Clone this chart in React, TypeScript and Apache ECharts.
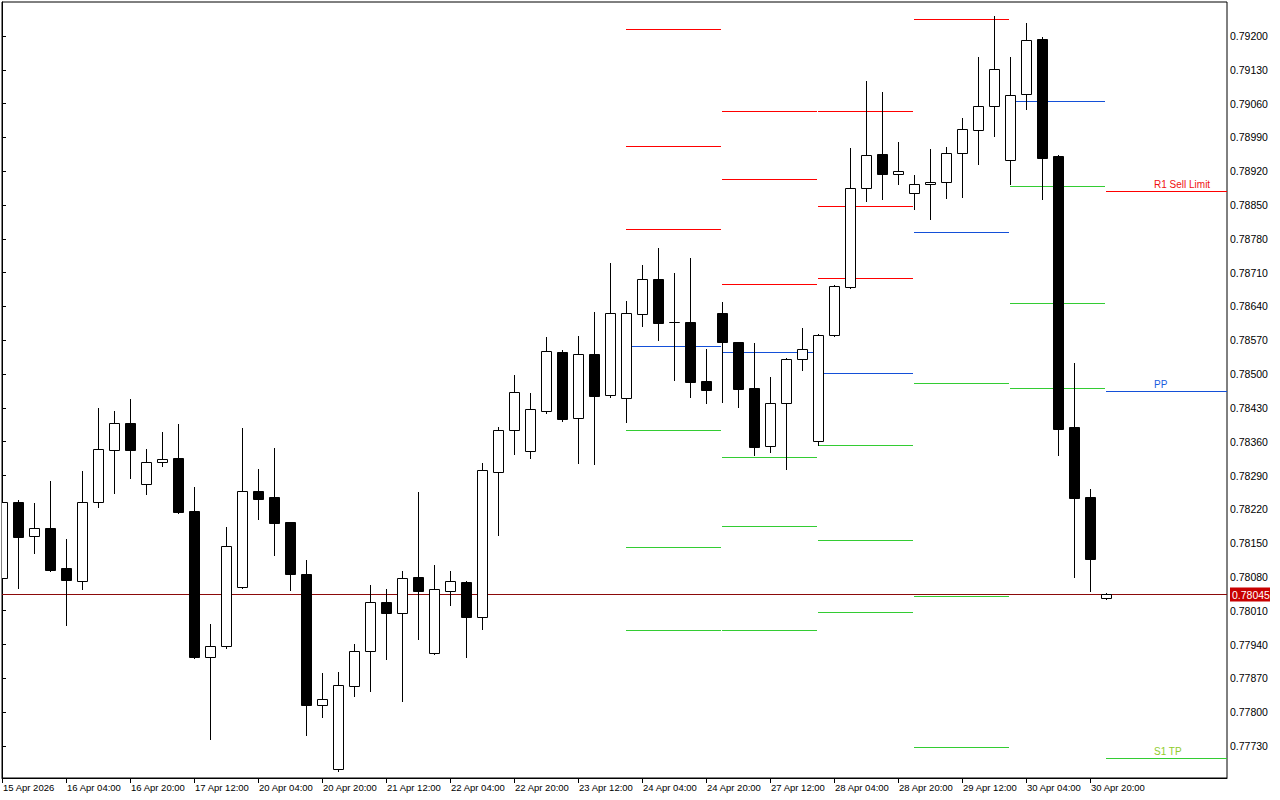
import React, { useEffect, useRef } from "react";
import * as echarts from "echarts";

// ---- data ----
const barOpen = [
  0.78078, 0.78235, 0.78165, 0.78182, 0.78099, 0.78072, 0.78235, 0.78343, 0.78399, 0.78273,
  0.78318, 0.78326, 0.78217, 0.77915, 0.77937, 0.78059, 0.78258, 0.78246, 0.78194, 0.78086,
  0.77815, 0.77683, 0.77855, 0.77927, 0.78028, 0.78006, 0.7808, 0.77923, 0.78051, 0.7807,
  0.77997, 0.78297, 0.78384, 0.78341, 0.78424, 0.78546, 0.78409, 0.78542, 0.78457, 0.78451,
  0.78625, 0.78697, 0.78608, 0.78608, 0.78486, 0.78627, 0.78567, 0.78471, 0.78351, 0.7844,
  0.78531, 0.78362, 0.78581, 0.7868, 0.78885, 0.78956, 0.78914, 0.78875, 0.78894, 0.78898,
  0.78958, 0.79005, 0.79055, 0.78943, 0.7908, 0.79194, 0.78952, 0.78391, 0.78246, 0.78037,
];
const barClose = [
  0.78235, 0.78163, 0.78182, 0.78095, 0.78074, 0.78235, 0.78345, 0.78399, 0.78343, 0.78318,
  0.78324, 0.78215, 0.77915, 0.77937, 0.78144, 0.78258, 0.78242, 0.78192, 0.78086, 0.77815,
  0.77828, 0.77857, 0.77927, 0.78028, 0.78006, 0.78078, 0.78051, 0.78055, 0.78072, 0.77997,
  0.78302, 0.78384, 0.78463, 0.78428, 0.78548, 0.78407, 0.78542, 0.78455, 0.78627, 0.78627,
  0.78697, 0.78606, 0.78607, 0.78484, 0.78467, 0.78567, 0.78469, 0.78349, 0.7844, 0.78531,
  0.78552, 0.78581, 0.78683, 0.78885, 0.78954, 0.78914, 0.78921, 0.78894, 0.78898, 0.78958,
  0.79007, 0.79055, 0.79132, 0.79078, 0.79192, 0.78947, 0.78386, 0.78244, 0.78117, 0.78045,
];
const barHigh = [
  0.78244, 0.7824, 0.78233, 0.78279, 0.78159, 0.783, 0.7843, 0.78424, 0.78449, 0.78345,
  0.7838, 0.78397, 0.78266, 0.77983, 0.78184, 0.78389, 0.78304, 0.78347, 0.78194, 0.78115,
  0.77881, 0.77884, 0.77941, 0.78064, 0.78055, 0.78093, 0.78256, 0.78105, 0.78093, 0.78072,
  0.78316, 0.78391, 0.78498, 0.78461, 0.78577, 0.7855, 0.78579, 0.78629, 0.7873, 0.78651,
  0.78726, 0.78761, 0.78709, 0.7874, 0.78552, 0.78649, 0.78567, 0.78565, 0.78494, 0.78533,
  0.78596, 0.78583, 0.78685, 0.78968, 0.79107, 0.79084, 0.78981, 0.78912, 0.78966, 0.7897,
  0.7903, 0.79157, 0.79241, 0.79157, 0.79227, 0.79198, 0.78954, 0.78523, 0.78262, 0.78047,
];
const barLow = [
  0.7807, 0.78057, 0.7813, 0.78093, 0.77981, 0.78055, 0.78225, 0.78254, 0.78285, 0.78252,
  0.7831, 0.78212, 0.77912, 0.77745, 0.77933, 0.78057, 0.782, 0.78126, 0.78053, 0.77753,
  0.7779, 0.77679, 0.77834, 0.77844, 0.7791, 0.77823, 0.77952, 0.77921, 0.78022, 0.77915,
  0.77972, 0.78167, 0.78335, 0.78326, 0.7842, 0.78403, 0.78316, 0.78314, 0.78453, 0.78401,
  0.786, 0.78571, 0.78488, 0.78453, 0.7844, 0.78442, 0.78432, 0.78333, 0.78339, 0.78304,
  0.78509, 0.78353, 0.78579, 0.78678, 0.78858, 0.78863, 0.78894, 0.78842, 0.78821, 0.78865,
  0.78867, 0.78935, 0.78993, 0.78894, 0.79049, 0.78863, 0.78333, 0.7808, 0.78051, 0.78035,
];

const timeLabelBars = [0, 4, 8, 12, 16, 20, 24, 28, 32, 36, 40, 44, 48, 52, 56, 60, 64, 68];
const timeLabels = [
  "15 Apr 2026", "16 Apr 04:00", "16 Apr 20:00", "17 Apr 12:00", "20 Apr 04:00", "20 Apr 20:00",
  "21 Apr 12:00", "22 Apr 04:00", "22 Apr 20:00", "23 Apr 12:00", "24 Apr 04:00", "24 Apr 20:00",
  "27 Apr 12:00", "28 Apr 04:00", "28 Apr 20:00", "29 Apr 12:00", "30 Apr 04:00", "30 Apr 20:00",
];

const priceTicks = [
  0.7773, 0.778, 0.7787, 0.7794, 0.7801, 0.7808, 0.7815, 0.7822, 0.7829, 0.7836, 0.7843,
  0.785, 0.7857, 0.7864, 0.7871, 0.7878, 0.7885, 0.7892, 0.7899, 0.7906, 0.7913, 0.792,
];

const currentPrice = 0.78045;

// daily pivot levels
const dayStartBar = [39, 45, 51, 57, 63, 69];
const levelDay = [0, 0, 0, 0, 0, 0, 0, 1, 1, 1, 1, 1, 1, 1, 2, 2, 2, 2, 2, 2, 2, 3, 3, 3, 3, 3, 4, 4, 4, 4, 5, 5, 5];
const levelPrice = [
  0.79214, 0.78972, 0.788, 0.78558, 0.78384, 0.78142, 0.7797,
  0.79045, 0.78904, 0.78687, 0.78546, 0.78329, 0.78186, 0.7797,
  0.79045, 0.78848, 0.78699, 0.78502, 0.78353, 0.78157, 0.78008,
  0.79235, 0.78794, 0.78482, 0.78041, 0.77728,
  0.79065, 0.78889, 0.78647, 0.78471,
  0.78879, 0.78465, 0.77705,
];
const levelKind = [
  "R", "R", "R", "P", "S", "S", "S",
  "R", "R", "R", "P", "S", "S", "S",
  "R", "R", "R", "P", "S", "S", "S",
  "R", "P", "S", "S", "S",
  "P", "S", "S", "S",
  "R", "P", "S",
];
const levelLabel = [
  "", "", "", "", "", "", "",
  "", "", "", "", "", "", "",
  "", "", "", "", "", "", "",
  "", "", "", "", "",
  "", "", "", "",
  "R1 Sell Limit", "PP", "S1 TP",
];

// ---- chart config ----
const X_MAX = 76.5625;
const Y_MIN = 0.776637;
const Y_MAX = 0.792704;
const LABEL_BAR = 72;
const kindColor: Record<string, string> = { R: "#ff0000", P: "#1450d8", S: "#33cc33" };
const labelColor: Record<string, string> = { R: "#f01010", P: "#1a5ce0", S: "#8fcc2a" };
const AXIS_FONT = '"Liberation Sans", Arial, sans-serif';

export default function App() {
  const ref = useRef<HTMLDivElement>(null);

  useEffect(() => {
    document.body.style.margin = "0";
    const el = ref.current;
    if (!el) return;
    const chart = echarts.init(el, null, { renderer: "svg" });

    const candleData = barOpen.map((o, i) => [i, o, barClose[i], barLow[i], barHigh[i]]);
    const levelData = levelPrice.map((p, i) => {
      const d = levelDay[i];
      const start = dayStartBar[d];
      const end = d + 1 < dayStartBar.length ? dayStartBar[d + 1] : X_MAX;
      return [start, end, p];
    });
    const labelMap: Record<number, string> = {};
    timeLabelBars.forEach((b, i) => (labelMap[b] = timeLabels[i]));

    const option: any = {
      animation: false,
      backgroundColor: "#ffffff",
      grid: {
        left: 2,
        top: 2,
        width: 1225,
        height: 776,
        show: true,
        borderColor: "#000",
        borderWidth: 1,
        backgroundColor: "#fff",
      },
      xAxis: {
        type: "value",
        min: 0,
        max: X_MAX,
        axisLine: { show: true, onZero: false, lineStyle: { color: "#000", width: 1 } },
        axisTick: {
          show: true,
          customValues: timeLabelBars,
          length: 5,
          lineStyle: { color: "#000" },
        },
        axisLabel: {
          show: true,
          customValues: timeLabelBars,
          showMinLabel: true,
          showMaxLabel: true,
          formatter: (v: number) => labelMap[Math.round(v)] ?? "",
          align: "left",
          padding: [0, 0, 0, 1],
          margin: 4,
          color: "#000",
          fontSize: 9.5,
          fontFamily: AXIS_FONT,
        },
        splitLine: { show: false },
      },
      yAxis: {
        type: "value",
        position: "right",
        min: Y_MIN,
        max: Y_MAX,
        axisLine: { show: true, lineStyle: { color: "#000", width: 1 } },
        axisTick: {
          show: true,
          customValues: priceTicks,
          length: 4,
          lineStyle: { color: "#000" },
        },
        axisLabel: {
          show: true,
          customValues: priceTicks,
          formatter: (v: number) => v.toFixed(5),
          margin: 3,
          color: "#000",
          fontSize: 10.5,
          fontFamily: AXIS_FONT,
        },
        splitLine: { show: false },
      },
      series: [
        {
          type: "custom",
          name: "price",
          data: [[0, X_MAX, currentPrice]],
          encode: { x: [0, 1], y: 2 },
          clip: false,
          silent: true,
          z: 1,
          renderItem: (params: any, api: any) => {
            const a = api.coord([api.value(0), api.value(2)]);
            const b = api.coord([api.value(1), api.value(2)]);
            const y = Math.round(a[1]) + 0.5;
            const x1 = Math.round(a[0]);
            const x2 = Math.round(b[0]);
            return {
              type: "group",
              children: [
                {
                  type: "line",
                  shape: { x1, y1: y, x2, y2: y },
                  style: { stroke: "#8c0a0a", lineWidth: 1 },
                },
                {
                  type: "rect",
                  shape: { x: x2 + 3, y: y - 7, width: 40, height: 14 },
                  style: { fill: "#c80000" },
                },
                {
                  type: "text",
                  x: x2 + 5,
                  y: y,
                  style: {
                    text: api.value(2).toFixed(5),
                    fill: "#fff",
                    font: '10.5px "Liberation Sans", Arial, sans-serif',
                    textAlign: "left",
                    textVerticalAlign: "middle",
                  },
                },
              ],
            };
          },
        },
        {
          type: "custom",
          name: "levels",
          data: levelData,
          encode: { x: [0, 1], y: 2 },
          clip: true,
          silent: true,
          z: 2,
          renderItem: (params: any, api: any) => {
            const i = params.dataIndex;
            const s = api.value(0);
            const e = api.value(1);
            const p = api.value(2);
            const a = api.coord([s, p]);
            const b = api.coord([e, p]);
            const y = Math.round(a[1]) + 0.5;
            const x1 = Math.round(a[0]);
            const x2 = e >= X_MAX ? Math.round(b[0]) : Math.round(b[0]) - 1;
            const kind = levelKind[i];
            const children: any[] = [
              {
                type: "line",
                shape: { x1, y1: y, x2, y2: y },
                style: { stroke: kindColor[kind], lineWidth: 1 },
              },
            ];
            const lbl = levelLabel[i];
            if (lbl) {
              const lp = api.coord([LABEL_BAR, p]);
              children.push({
                type: "text",
                x: Math.round(lp[0]),
                y: y - 2,
                style: {
                  text: lbl,
                  fill: labelColor[kind],
                  font: '10px "Liberation Sans", Arial, sans-serif',
                  textAlign: "left",
                  textVerticalAlign: "bottom",
                },
              });
            }
            return { type: "group", children };
          },
        },
        {
          type: "custom",
          name: "candles",
          data: candleData,
          encode: { x: 0, y: [1, 2, 3, 4] },
          clip: true,
          silent: true,
          z: 3,
          renderItem: (params: any, api: any) => {
            const x = api.value(0);
            const o = api.value(1);
            const c = api.value(2);
            const l = api.value(3);
            const h = api.value(4);
            const po = api.coord([x, o]);
            const pc = api.coord([x, c]);
            const pl = api.coord([x, l]);
            const ph = api.coord([x, h]);
            const cx = Math.round(po[0]);
            const yo = Math.round(po[1]);
            const yc = Math.round(pc[1]);
            const top = Math.min(yo, yc);
            const bot = Math.max(yo, yc);
            const bull = c >= o;
            return {
              type: "group",
              children: [
                {
                  type: "line",
                  shape: { x1: cx + 0.5, y1: Math.round(ph[1]), x2: cx + 0.5, y2: Math.round(pl[1]) + 1 },
                  style: { stroke: "#000", lineWidth: 1 },
                },
                {
                  type: "rect",
                  shape: { x: cx - 4.5, y: top + 0.5, width: 10, height: Math.max(bot - top, 0) },
                  style: { fill: bull ? "#fff" : "#000", stroke: "#000", lineWidth: 1 },
                },
              ],
            };
          },
        },
      ],
    };

    chart.setOption(option);
    return () => chart.dispose();
  }, []);

  return <div ref={ref} style={{ width: 1280, height: 800, background: "#fff" }} />;
}
